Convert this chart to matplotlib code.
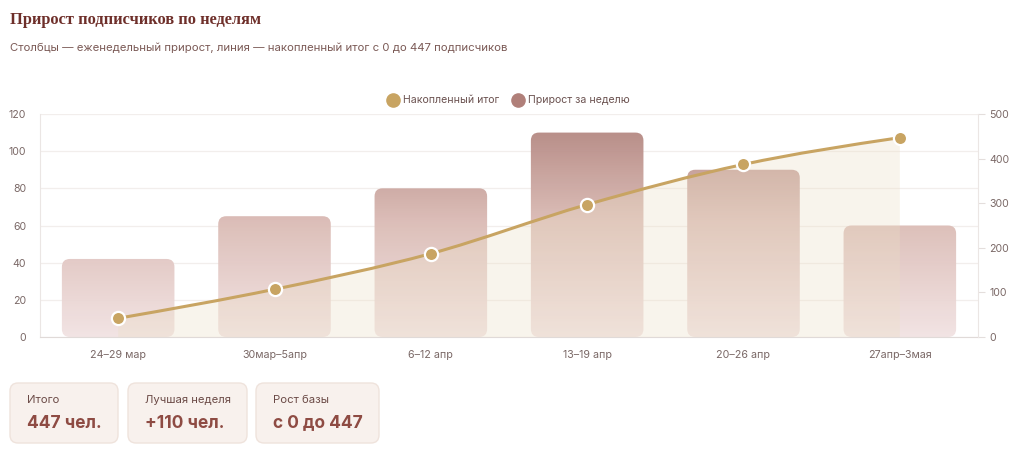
import numpy as np
import matplotlib
matplotlib.use('Agg')
import matplotlib.pyplot as plt
from matplotlib.patches import FancyBboxPatch, PathPatch
from matplotlib.path import Path
from matplotlib.lines import Line2D
from matplotlib.colors import LinearSegmentedColormap

plt.rcParams['font.family'] = ['Inter', 'DejaVu Sans']

# data
weeks = ['24–29 мар', '30мар–5апр', '6–12 апр', '13–19 апр', '20–26 апр', '27апр–3мая']
weekly = [42, 65, 80, 110, 90, 60]
cumulative = [42, 107, 187, 297, 387, 447]
left_ticks = [0, 20, 40, 60, 80, 100, 120]
right_ticks = [0, 100, 200, 300, 400, 500]
card_labels = ['Итого', 'Лучшая неделя', 'Рост базы']
card_values = ['447 чел.', '+110 чел.', 'с 0 до 447']

title = 'Прирост подписчиков по неделям'
subtitle = 'Столбцы — еженедельный прирост, линия — накопленный итог с 0 до 447 подписчиков'

W, H = 1024, 453
fig = plt.figure(figsize=(W / 100, H / 100), dpi=100)
fig.patch.set_facecolor('white')

# background overlay in pixel coords for title + cards
bg = fig.add_axes([0, 0, 1, 1])
bg.set_xlim(0, W)
bg.set_ylim(H, 0)
bg.axis('off')
bg.text(10, 20, title, fontsize=11.8, fontweight='bold', family='Liberation Serif',
        color='#6e2f2a', va='center', ha='left')
bg.text(10, 48, subtitle, fontsize=8.2, color='#7b5a56', va='center', ha='left')

card_x = [10, 128, 256]
card_w = [108, 119, 123]
for x, w, lab, val in zip(card_x, card_w, card_labels, card_values):
    bg.add_patch(FancyBboxPatch((x, 383), w, 60, boxstyle='round,pad=0,rounding_size=8',
                                facecolor='#f8f1ed', edgecolor='#efe3dc', lw=1))
    bg.text(x + 17, 400, lab, fontsize=8.1, color='#6b4a46', va='center', ha='left')
    bg.text(x + 17, 423, val, fontsize=12.5, fontweight='bold', color='#8e4b43',
            va='center', ha='left')

# main axes
x0, x1, y_top, y_bot = 40, 978, 114, 337
ax = fig.add_axes([x0 / W, (H - y_bot) / H, (x1 - x0) / W, (y_bot - y_top) / H])
ax.set_facecolor('none')
ax2 = ax.twinx()

xs = np.arange(len(weeks))
ax.set_xlim(-0.5, len(weeks) - 0.5)
ax.set_ylim(0, 120)
ax2.set_ylim(0, 500)

ax.set_yticks(left_ticks)
ax2.set_yticks(right_ticks)
ax.set_xticks(xs)
ax.set_xticklabels(weeks)

tick_col = '#7a6866'
ax.tick_params(axis='y', length=0, labelsize=7.6, labelcolor=tick_col, pad=10)
ax.tick_params(axis='x', length=0, labelsize=7.7, labelcolor=tick_col, pad=9)
ax2.tick_params(axis='y', length=5, width=0.8, color='#e4dedc', labelsize=7.6,
                labelcolor=tick_col, pad=3)
for a in (ax, ax2):
    for s in a.spines.values():
        s.set_visible(False)
ax.spines['left'].set_visible(True)
ax.spines['left'].set_color('#ebe6e4')
ax.spines['bottom'].set_visible(True)
ax.spines['bottom'].set_color('#e0dad8')
ax2.spines['right'].set_visible(True)
ax2.spines['right'].set_color('#ebe6e4')

ax.grid(axis='y', color='#f2eeec', lw=0.9, zorder=0)
ax.set_axisbelow(True)

# gradient bars with rounded corners
fig.canvas.draw()
bb = ax.get_window_extent()
px_x = bb.width / (len(weeks))
px_y = bb.height / 120.0
aspect = px_x / px_y
bar_w = 0.72
r = 8 / px_x
cmap = LinearSegmentedColormap.from_list('bar', ['#f2e3e3', '#dcbdb7', '#ae7f79'])
grad = np.linspace(0, 1, 256).reshape(-1, 1)
for xi, v in zip(xs, weekly):
    p = FancyBboxPatch((xi - bar_w / 2, 0), bar_w, v,
                       boxstyle='round,pad=0,rounding_size=%f' % r,
                       mutation_aspect=aspect, facecolor='none', edgecolor='none')
    ax.add_patch(p)
    im = ax.imshow(grad, cmap=cmap, origin='lower', aspect='auto',
                   extent=(-0.5, len(weeks) - 0.5, 0, 120), zorder=2, alpha=0.95)
    im.set_clip_path(p)
ax.set_xlim(-0.5, len(weeks) - 0.5)
ax.set_ylim(0, 120)

# smooth cumulative line (monotone cubic bezier through points)
y = np.array(cumulative, dtype=float)
n = len(y)
s = np.diff(y)
t = np.zeros(n)
for i in range(1, n - 1):
    p_ = (s[i - 1] + s[i]) / 2
    t[i] = (np.sign(s[i - 1]) + np.sign(s[i])) * min(abs(s[i - 1]), abs(s[i]), 0.5 * abs(p_))
t[0] = (3 * s[0] - t[1]) / 2
t[-1] = (3 * s[-1] - t[-2]) / 2
verts = [(xs[0], y[0])]
codes = [Path.MOVETO]
for i in range(n - 1):
    verts += [(xs[i] + 1 / 3, y[i] + t[i] / 3), (xs[i + 1] - 1 / 3, y[i + 1] - t[i + 1] / 3),
              (xs[i + 1], y[i + 1])]
    codes += [Path.CURVE4] * 3
fill_verts = verts + [(xs[-1], 0), (xs[0], 0), (xs[0], y[0])]
fill_codes = codes + [Path.LINETO, Path.LINETO, Path.CLOSEPOLY]
ax2.add_patch(PathPatch(Path(fill_verts, fill_codes), facecolor='#ecdfc6', alpha=0.33,
                        edgecolor='none', zorder=1))
ax2.add_patch(PathPatch(Path(verts, codes), facecolor='none', edgecolor='#c8a462',
                        lw=2.2, zorder=2, capstyle='round'))
ax2.plot(xs, cumulative, ls='none', marker='o', ms=9.5, mfc='#c8a462', mec='white',
         mew=1.6, zorder=3)
ax2.set_xlim(-0.5, len(weeks) - 0.5)

# legend
handles = [Line2D([], [], ls='none', marker='o', ms=9.5, mfc='#c8a462', mec='#c8a462'),
           Line2D([], [], ls='none', marker='o', ms=9.5, mfc='#b07f79', mec='#b07f79')]
leg = ax2.legend(handles, ['Накопленный итог', 'Прирост за неделю'], ncol=2, loc='lower center',
                 bbox_to_anchor=(0.5, 1.02), frameon=False, fontsize=7.6, handletextpad=0.45,
                 columnspacing=1.3, handlelength=1.0, borderaxespad=0)
for txt in leg.get_texts():
    txt.set_color('#6b5250')

fig.savefig('out.png', dpi=100, facecolor='white')
